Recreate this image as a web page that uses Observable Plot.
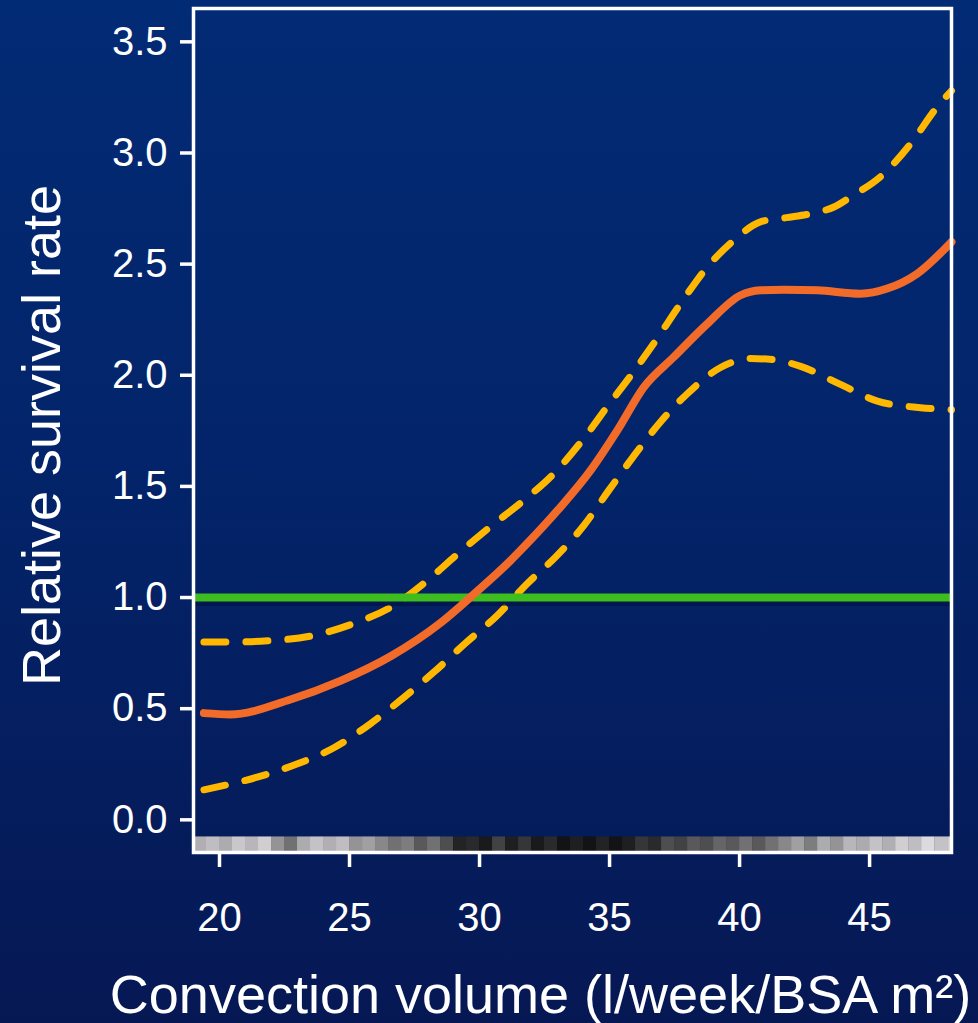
<!DOCTYPE html>
<html>
<head>
<meta charset="utf-8">
<script src="https://cdn.jsdelivr.net/npm/d3@7"></script>
<script src="https://cdn.jsdelivr.net/npm/@observablehq/plot@0.6"></script>
<style>
  html, body { margin: 0; padding: 0; width: 978px; height: 1023px; overflow: hidden; }
  body { background: linear-gradient(180deg, #022b75 0%, #03246a 45%, #061854 100%); }
  #chart svg { display: block; }
</style>
</head>
<body>
<div id="chart"></div>
<script>
// Spline fit of relative survival against convection volume, with 95% band
const fitX = [19.4, 20.4, 22.7, 24.65, 26.6, 28.5, 29.8, 31.2, 31.7, 33.0, 34.27, 35.3, 36.32, 37.47, 38.76, 40.04, 40.8, 41.7, 43.0, 44.65, 45.68, 46.83, 48.15];
const fitY = [0.48, 0.474, 0.54, 0.625, 0.737, 0.886, 1.017, 1.167, 1.227, 1.392, 1.572, 1.752, 1.947, 2.082, 2.232, 2.36, 2.382, 2.385, 2.382, 2.367, 2.39, 2.457, 2.6];

const upperX = [19.4, 20.4, 22.1, 23.6, 25.2, 26.6, 28.0, 29.1, 30.4, 31.7, 32.85, 33.95, 34.9, 35.87, 36.83, 37.73, 38.76, 39.78, 40.8, 41.8, 42.73, 43.63, 44.27, 45.55, 46.58, 47.6, 48.15];
const upperY = [0.80, 0.80, 0.807, 0.829, 0.885, 0.957, 1.077, 1.19, 1.317, 1.437, 1.557, 1.707, 1.857, 2.007, 2.165, 2.322, 2.487, 2.607, 2.69, 2.709, 2.727, 2.757, 2.802, 2.907, 3.042, 3.207, 3.28];

const lowerX = [19.4, 21.45, 23.0, 24.4, 25.8, 27.03, 28.24, 29.46, 30.68, 31.83, 32.92, 34.01, 34.97, 35.9, 36.9, 37.99, 39.27, 40.42, 41.32, 42.35, 43.88, 45.3, 46.96, 48.15];
const lowerY = [0.135, 0.192, 0.252, 0.324, 0.432, 0.545, 0.664, 0.795, 0.919, 1.062, 1.182, 1.324, 1.482, 1.632, 1.782, 1.917, 2.035, 2.075, 2.07, 2.04, 1.959, 1.884, 1.854, 1.845];

// Reference level (relative survival = 1)
const referenceLevel = [1];

// Rug of observed convection volumes: bin starts and lightness (0 = dense/black, 1 = sparse/white)
const rugStart = [19.0, 19.5, 20.0, 20.5, 21.0, 21.5, 22.0, 22.5, 23.0, 23.5, 24.0, 24.5, 25.0, 25.5, 26.0, 26.5, 27.0, 27.5, 28.0, 28.5, 29.0, 29.5, 30.0, 30.5, 31.0, 31.5, 32.0, 32.5, 33.0, 33.5, 34.0, 34.5, 35.0, 35.5, 36.0, 36.5, 37.0, 37.5, 38.0, 38.5, 39.0, 39.5, 40.0, 40.5, 41.0, 41.5, 42.0, 42.5, 43.0, 43.5, 44.0, 44.5, 45.0, 45.5, 46.0, 46.5, 47.0, 47.5, 48.0];
const rugShade = [0.72, 0.78, 0.70, 0.82, 0.75, 0.85, 0.60, 0.45, 0.70, 0.80, 0.72, 0.78, 0.60, 0.65, 0.55, 0.45, 0.50, 0.35, 0.45, 0.30, 0.12, 0.15, 0.08, 0.25, 0.10, 0.20, 0.08, 0.15, 0.05, 0.10, 0.05, 0.12, 0.05, 0.10, 0.20, 0.15, 0.30, 0.25, 0.35, 0.30, 0.40, 0.35, 0.45, 0.35, 0.45, 0.55, 0.65, 0.50, 0.70, 0.60, 0.75, 0.70, 0.80, 0.72, 0.85, 0.78, 0.90, 0.80, 0.85];
const rugBinWidth = 0.5;

const xTicks = [20, 25, 30, 35, 40, 45];
const yTicks = [0, 0.5, 1, 1.5, 2, 2.5, 3, 3.5];

const xTitle = "Convection volume (l/week/BSA m²)";
const yTitle = "Relative survival rate";

const xDomain = [19, 48.15];
const yDomain = [-0.147, 3.65];
const rugTop = -0.077;

const toPoints = (xs, ys) => xs.map((x, i) => ({x, y: ys[i]}));
const fit = toPoints(fitX, fitY);
const upper = toPoints(upperX, upperY);
const lower = toPoints(lowerX, lowerY);
const rug = rugStart.map((s, i) => ({x1: s, x2: Math.min(s + rugBinWidth, xDomain[1]), shade: rugShade[i]}));

const font = "'Liberation Sans', Arial, Helvetica, sans-serif";

const chart = Plot.plot({
  width: 978,
  height: 1023,
  marginLeft: 193,
  marginRight: 27,
  marginTop: 8,
  marginBottom: 171,
  style: {background: "transparent", color: "white", fontFamily: font, overflow: "visible"},
  x: {domain: xDomain},
  y: {domain: yDomain},
  color: {type: "linear", domain: [0, 1], range: ["#070608", "#f3f1f5"]},
  marks: [
    Plot.rect(rug, {x1: "x1", x2: "x2", y1: rugTop, y2: yDomain[0], fill: "shade"}),
    Plot.line(upper, {x: "x", y: "y", stroke: "#ffb700", strokeWidth: 7, strokeDasharray: "22,20", curve: "monotone-x"}),
    Plot.line(lower, {x: "x", y: "y", stroke: "#ffb700", strokeWidth: 7, strokeDasharray: "22,20", curve: "monotone-x"}),
    Plot.ruleY(referenceLevel, {stroke: "#000a30", strokeOpacity: 0.45, strokeWidth: 7, dy: 5}),
    Plot.ruleY(referenceLevel, {stroke: "#3dbe1e", strokeWidth: 8}),
    Plot.line(fit, {x: "x", y: "y", stroke: "#f36b29", strokeWidth: 8, curve: "monotone-x"}),
    Plot.frame({stroke: "white", strokeWidth: 3.5}),
    Plot.axisY(yTicks, {tickSize: 13, tickPadding: 13, fontSize: 40, strokeWidth: 3.5, tickFormat: d3.format(".1f"), label: null}),
    Plot.axisX(xTicks, {tickSize: 15, tickPadding: 35, fontSize: 40, strokeWidth: 3.5, label: null}),
    Plot.text([yTitle], {frameAnchor: "left", rotate: -90, dx: -151, dy: 5, fontSize: 54, fill: "white", textAnchor: "middle", lineAnchor: "middle"}),
    Plot.text([xTitle], {frameAnchor: "bottom", dx: -32, dy: 143, fontSize: 54, fill: "white", textAnchor: "middle", lineAnchor: "middle"})
  ]
});

document.getElementById("chart").appendChild(chart);
</script>
</body>
</html>
